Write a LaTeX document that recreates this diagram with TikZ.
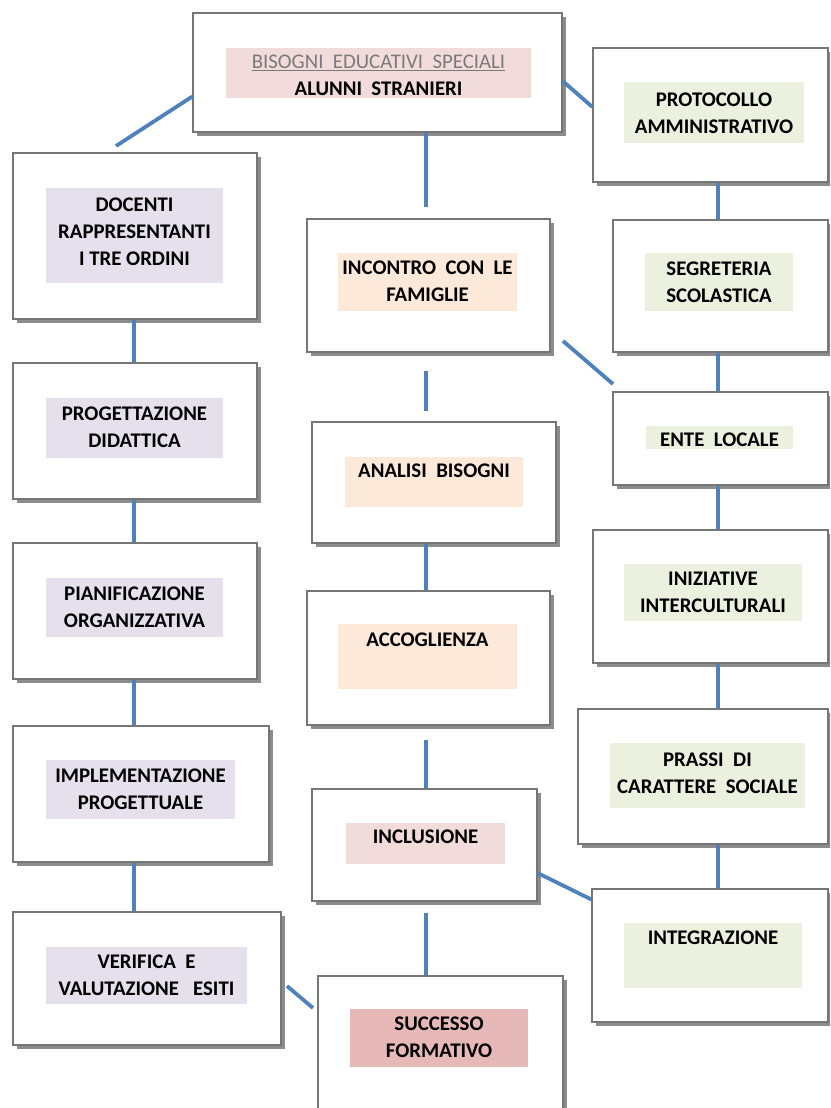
\documentclass[tikz,border=0pt]{standalone}
\usepackage{fontspec}
\setmainfont{Carlito}
\usetikzlibrary{fit,shadows}
\definecolor{pinkbg}{HTML}{F2DCDB}
\definecolor{lavbg}{HTML}{E5E0EC}
\definecolor{peachbg}{HTML}{FDE9D9}
\definecolor{greenbg}{HTML}{EBF1DE}
\definecolor{rosebg}{HTML}{E6B9B8}
\definecolor{connblue}{HTML}{4F81BD}
\definecolor{bordergray}{HTML}{767676}
\definecolor{titlegray}{HTML}{7A7A7A}
\tikzset{
  outerbox/.style={draw=bordergray, line width=1.3pt, fill=white, inner sep=0pt,
    drop shadow={shadow xshift=4pt, shadow yshift=-4pt, fill=black!45, opacity=1}},
  innerbox/.style={draw=none, inner sep=0pt},
  lbl/.style={font=\fontsize{20.8}{27}\selectfont\bfseries, align=center, inner sep=0pt, text=black},
  conn/.style={draw=connblue, line width=3.8pt},
}
\newcommand\obox[3]{\node[outerbox, fit={(#2) (#3)}] (#1) {};}
\newcommand\ibox[4]{\node[innerbox, fill=#2, fit={(#3) (#4)}] (#1i) {};}
\newcommand\lbl[3]{\node[lbl, anchor=north] (#1t) at ([yshift=-#2pt]#1i.north) {#3};}
\begin{document}
\begin{tikzpicture}[x=1pt,y=-1pt]
\useasboundingbox (0,0) rectangle (830,1108);
\clip (0,0) rectangle (830,1108);
\fill[white] (0,0) rectangle (830,1108);

% top box
\obox{bes}{193,13}{562,132}
\ibox{bes}{pinkbg}{226,48}{531,98}
\node[lbl, anchor=north] (best) at ([yshift=-7pt]besi.north)
  {{\mdseries\color{titlegray}\underline{BISOGNI\ \ EDUCATIVI\ \ SPECIALI}}\\ALUNNI\ \ STRANIERI};

% right column
\obox{prot}{593,48}{828,182}
\ibox{prot}{greenbg}{624,82}{804,143}
\lbl{prot}{11}{PROTOCOLLO\\AMMINISTRATIVO}

\obox{seg}{613,220}{828,352}
\ibox{seg}{greenbg}{645,253}{793,311}
\lbl{seg}{9}{SEGRETERIA\\SCOLASTICA}

\obox{ente}{613,392}{828,485}
\ibox{ente}{greenbg}{646,426}{793,449}
\lbl{ente}{7}{ENTE\ \ LOCALE}

\obox{iniz}{593,530}{828,663}
\ibox{iniz}{greenbg}{624,564}{802,621}
\lbl{iniz}{8}{INIZIATIVE\\INTERCULTURALI}

\obox{prassi}{578,709}{828,844}
\ibox{prassi}{greenbg}{610,743}{805,808}
\lbl{prassi}{10}{PRASSI\ \ DI\\CARATTERE\ \ SOCIALE}

\obox{integ}{592,889}{828,1022}
\ibox{integ}{greenbg}{624,923}{802,988}
\lbl{integ}{8}{INTEGRAZIONE}

% left column
\obox{doc}{13,153}{257,319}
\ibox{doc}{lavbg}{46,188}{223,283}
\lbl{doc}{10}{DOCENTI\\RAPPRESENTANTI\\I TRE ORDINI}

\obox{prog}{13,363}{257,499}
\ibox{prog}{lavbg}{46,398}{223,458}
\lbl{prog}{9}{PROGETTAZIONE\\DIDATTICA}

\obox{pian}{13,543}{257,679}
\ibox{pian}{lavbg}{46,578}{223,637}
\lbl{pian}{9}{PIANIFICAZIONE\\ORGANIZZATIVA}

\obox{impl}{13,726}{269,862}
\ibox{impl}{lavbg}{46,760}{235,819}
\lbl{impl}{9}{IMPLEMENTAZIONE\\PROGETTUALE}

\obox{ver}{13,912}{281,1045}
\ibox{ver}{lavbg}{46,947}{247,1004}
\lbl{ver}{8}{VERIFICA\ \ E\\VALUTAZIONE\ \ \ ESITI}

% middle column
\obox{inc}{307,219}{550,352}
\ibox{inc}{peachbg}{338,253}{517,311}
\lbl{inc}{8}{INCONTRO\ \ CON\ \ LE\\FAMIGLIE}

\obox{ana}{312,422}{556,543}
\ibox{ana}{peachbg}{345,457}{523,507}
\lbl{ana}{7}{ANALISI\ \ BISOGNI}

\obox{acc}{307,591}{550,725}
\ibox{acc}{peachbg}{338,624}{517,689}
\lbl{acc}{9}{ACCOGLIENZA}

\obox{incl}{312,789}{537,901}
\ibox{incl}{pinkbg}{346,823}{505,864}
\lbl{incl}{7}{INCLUSIONE}

\obox{succ}{318,976}{563,1130}
\ibox{succ}{rosebg}{350,1009}{528,1067}
\lbl{succ}{8}{SUCCESSO\\FORMATIVO}

% column x positions and free ends
\coordinate (xL) at (134,0);
\coordinate (xM) at (426,0);
\coordinate (xR) at (718,0);
\coordinate (c1) at (116,146);
\coordinate (c2) at (426,207);
\coordinate (c3) at (426,371);
\coordinate (c4) at (426,411);
\coordinate (c5) at (563,341);
\coordinate (c6) at (613,384);
\coordinate (c7) at (426,740);
\coordinate (c8) at (426,913);
\coordinate (c9) at (287,986);
\coordinate (c10) at (313,1008);

% connectors
\draw[conn] ([yshift=-24pt]bes.west) -- (c1);
\draw[conn] ([yshift=-8.5pt]bes.east) -- ([yshift=8pt]prot.west);
\draw[conn] (bes.south -| xM) -- (c2);
\draw[conn] (prot.south -| xR) -- (seg.north -| xR);
\draw[conn] (seg.south -| xR) -- (ente.north -| xR);
\draw[conn] (ente.south -| xR) -- (iniz.north -| xR);
\draw[conn] (iniz.south -| xR) -- (prassi.north -| xR);
\draw[conn] (prassi.south -| xR) -- (integ.north -| xR);
\draw[conn] (doc.south -| xL) -- (prog.north -| xL);
\draw[conn] (prog.south -| xL) -- (pian.north -| xL);
\draw[conn] (pian.south -| xL) -- (impl.north -| xL);
\draw[conn] (impl.south -| xL) -- (ver.north -| xL);
\draw[conn] (c3) -- (c4);
\draw[conn] (c5) -- (c6);
\draw[conn] (ana.south -| xM) -- (acc.north -| xM);
\draw[conn] (c7) -- (incl.north -| xM);
\draw[conn] (c8) -- (succ.north -| xM);
\draw[conn] ([yshift=-28pt]incl.east) -- ([yshift=56pt]integ.west);
\draw[conn] (c9) -- (c10);
\end{tikzpicture}
\end{document}
